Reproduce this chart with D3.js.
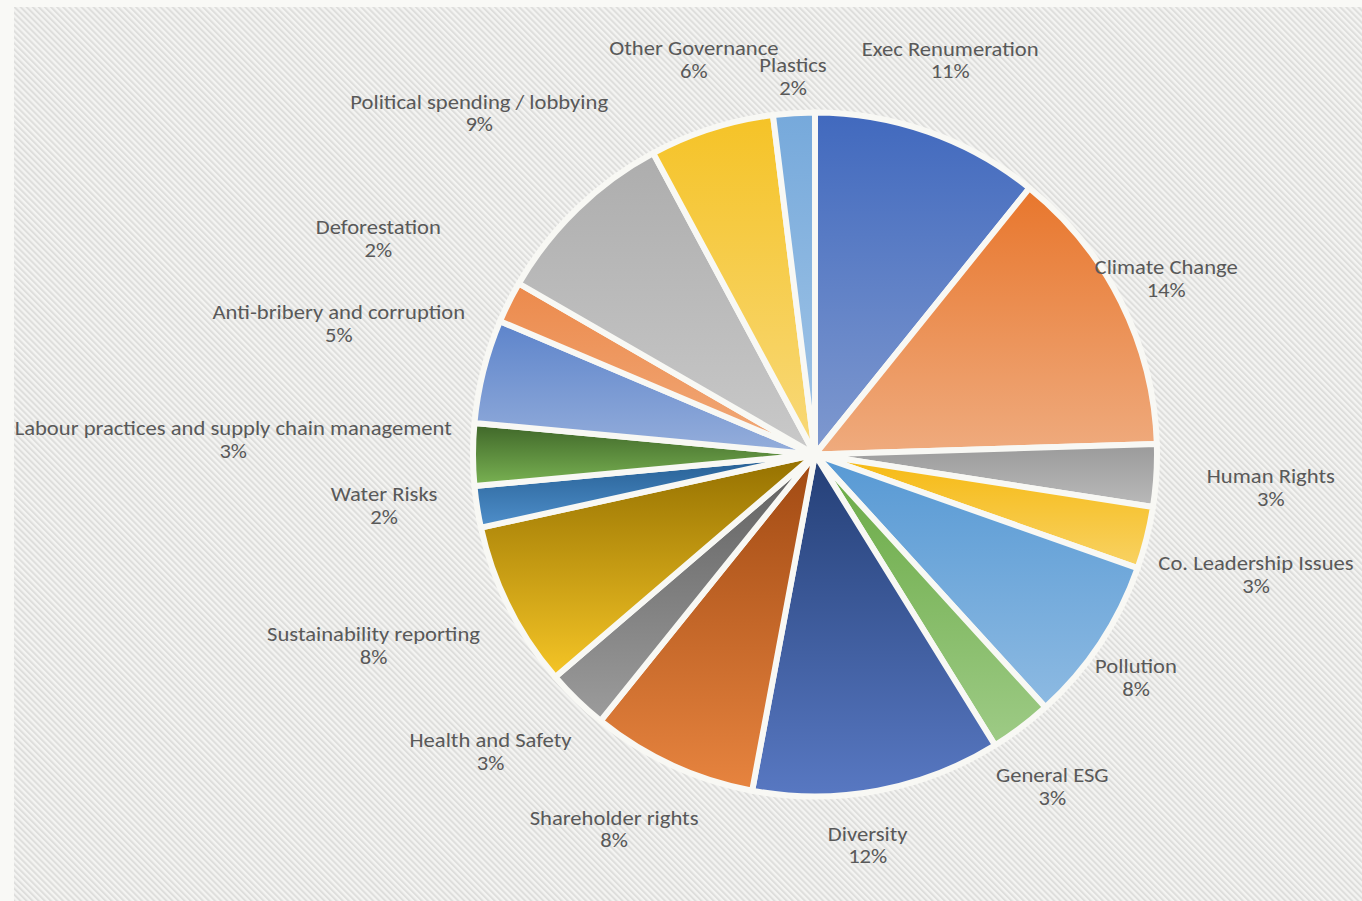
<!DOCTYPE html>
<html>
<head>
<meta charset="utf-8">
<script src="https://cdn.jsdelivr.net/npm/d3@7"></script>
<style>
  html, body { margin: 0; padding: 0; background: #f9f9f6; }
  svg { display: block; }
</style>
</head>
<body>
<svg id="chart" width="1362" height="901"></svg>
<script>
// Shareholder resolution topics, share of total (%)
const categories = [
  "Exec Renumeration", "Climate Change", "Human Rights", "Co. Leadership Issues",
  "Pollution", "General ESG", "Diversity", "Shareholder rights", "Health and Safety",
  "Sustainability reporting", "Water Risks", "Labour practices and supply chain management",
  "Anti-bribery and corruption", "Deforestation", "Political spending / lobbying",
  "Other Governance", "Plastics"
];
const shares = [11, 14, 3, 3, 8, 3, 12, 8, 3, 8, 2, 3, 5, 2, 9, 6, 2];

// Slice fills: vertical gradient, top colour -> bottom colour
const fillTop = [
  "#4169be", "#e8762c", "#9a9a9a", "#f6b910", "#5799d4", "#68a943",
  "#243f76", "#a04912", "#5f5f5f", "#947000", "#245d91", "#3e6528",
  "#5d84cb", "#ec8a4c", "#adadad", "#f5c327", "#76a9db"
];
const fillBottom = [
  "#7f99cf", "#efab7e", "#bababa", "#f8d264", "#8dbae2", "#9ecb86",
  "#5878c2", "#e7843f", "#9c9c9c", "#f5c526", "#4f8fcb", "#7ab353",
  "#95aedb", "#f1aa7a", "#c9c9c9", "#f8d97a", "#a3c6e7"
];

// Label placement around the pie: radial distance of the label block centre
// and a small angular nudge (degrees) from the slice's mid-angle
const labelDist = [417, 393, 457, 457, 391, 408, 394, 425, 440, 481, 434, 582, 494, 487, 479, 413, 379];
const labelTurn = [-0.5, -0.2, 0.6, 1.1, 1.3, 1.5, 2.9, 3.5, 3.4, 3.1, 2.1, 1.5, 1.3, -0.2, -0.4, 0.6, 0.2];

const W = 1362, H = 901;
const cx = 815, cy = 454.5, R = 342;

const svg = d3.select("#chart");
const defs = svg.append("defs");

// diagonal hatch for the plot background
const hatch = defs.append("pattern")
  .attr("id", "hatch")
  .attr("patternUnits", "userSpaceOnUse")
  .attr("width", 4.3).attr("height", 4.3)
  .attr("patternTransform", "rotate(-45)");
hatch.append("rect").attr("width", 4.3).attr("height", 4.3).attr("fill", "#f4f4f2");
hatch.append("rect").attr("width", 2.0).attr("height", 4.3).attr("fill", "#dededc");

svg.append("rect").attr("width", W).attr("height", H).attr("fill", "#f9f9f6");
svg.append("rect").attr("x", 14).attr("y", 7).attr("width", W - 14).attr("height", H - 7)
  .attr("fill", "url(#hatch)");

// gradients per slice
shares.forEach((_, i) => {
  const g = defs.append("linearGradient")
    .attr("id", "grad" + i)
    .attr("x1", 0).attr("y1", 0).attr("x2", 0).attr("y2", 1);
  g.append("stop").attr("offset", "0%").attr("stop-color", fillTop[i]);
  g.append("stop").attr("offset", "100%").attr("stop-color", fillBottom[i]);
});

const data = categories.map((c, i) => ({ name: c, value: shares[i], idx: i }));
const pie = d3.pie().sort(null).value(d => d.value);
const arcs = pie(data);
const arc = d3.arc().innerRadius(0).outerRadius(R);

const g = svg.append("g").attr("transform", `translate(${cx},${cy})`);

g.selectAll("path.slice")
  .data(arcs)
  .join("path")
  .attr("class", "slice")
  .attr("d", arc)
  .attr("fill", d => `url(#grad${d.data.idx})`)
  .attr("stroke", "#f8f8f4")
  .attr("stroke-width", 6)
  .attr("stroke-linejoin", "round");

// labels: category name with percentage underneath (slightly wide face)
const labels = g.selectAll("text.lbl")
  .data(arcs)
  .join("text")
  .attr("class", "lbl")
  .attr("text-anchor", "middle")
  .attr("font-family", "Carlito, Lato, 'Open Sans', sans-serif")
  .attr("font-size", 19.5)
  .attr("fill", "#595959")
  .attr("transform", d => {
    const i = d.data.idx;
    const a = (d.startAngle + d.endAngle) / 2 + labelTurn[i] * Math.PI / 180;
    const r = labelDist[i];
    return `translate(${(r * Math.sin(a)).toFixed(1)},${(-r * Math.cos(a)).toFixed(1)}) scale(1.16,1)`;
  });

labels.append("tspan").attr("x", 0).attr("y", -4.5).text(d => d.data.name);
labels.append("tspan").attr("x", 0).attr("y", 18.5).text(d => d.data.value + "%");
</script>
</body>
</html>
